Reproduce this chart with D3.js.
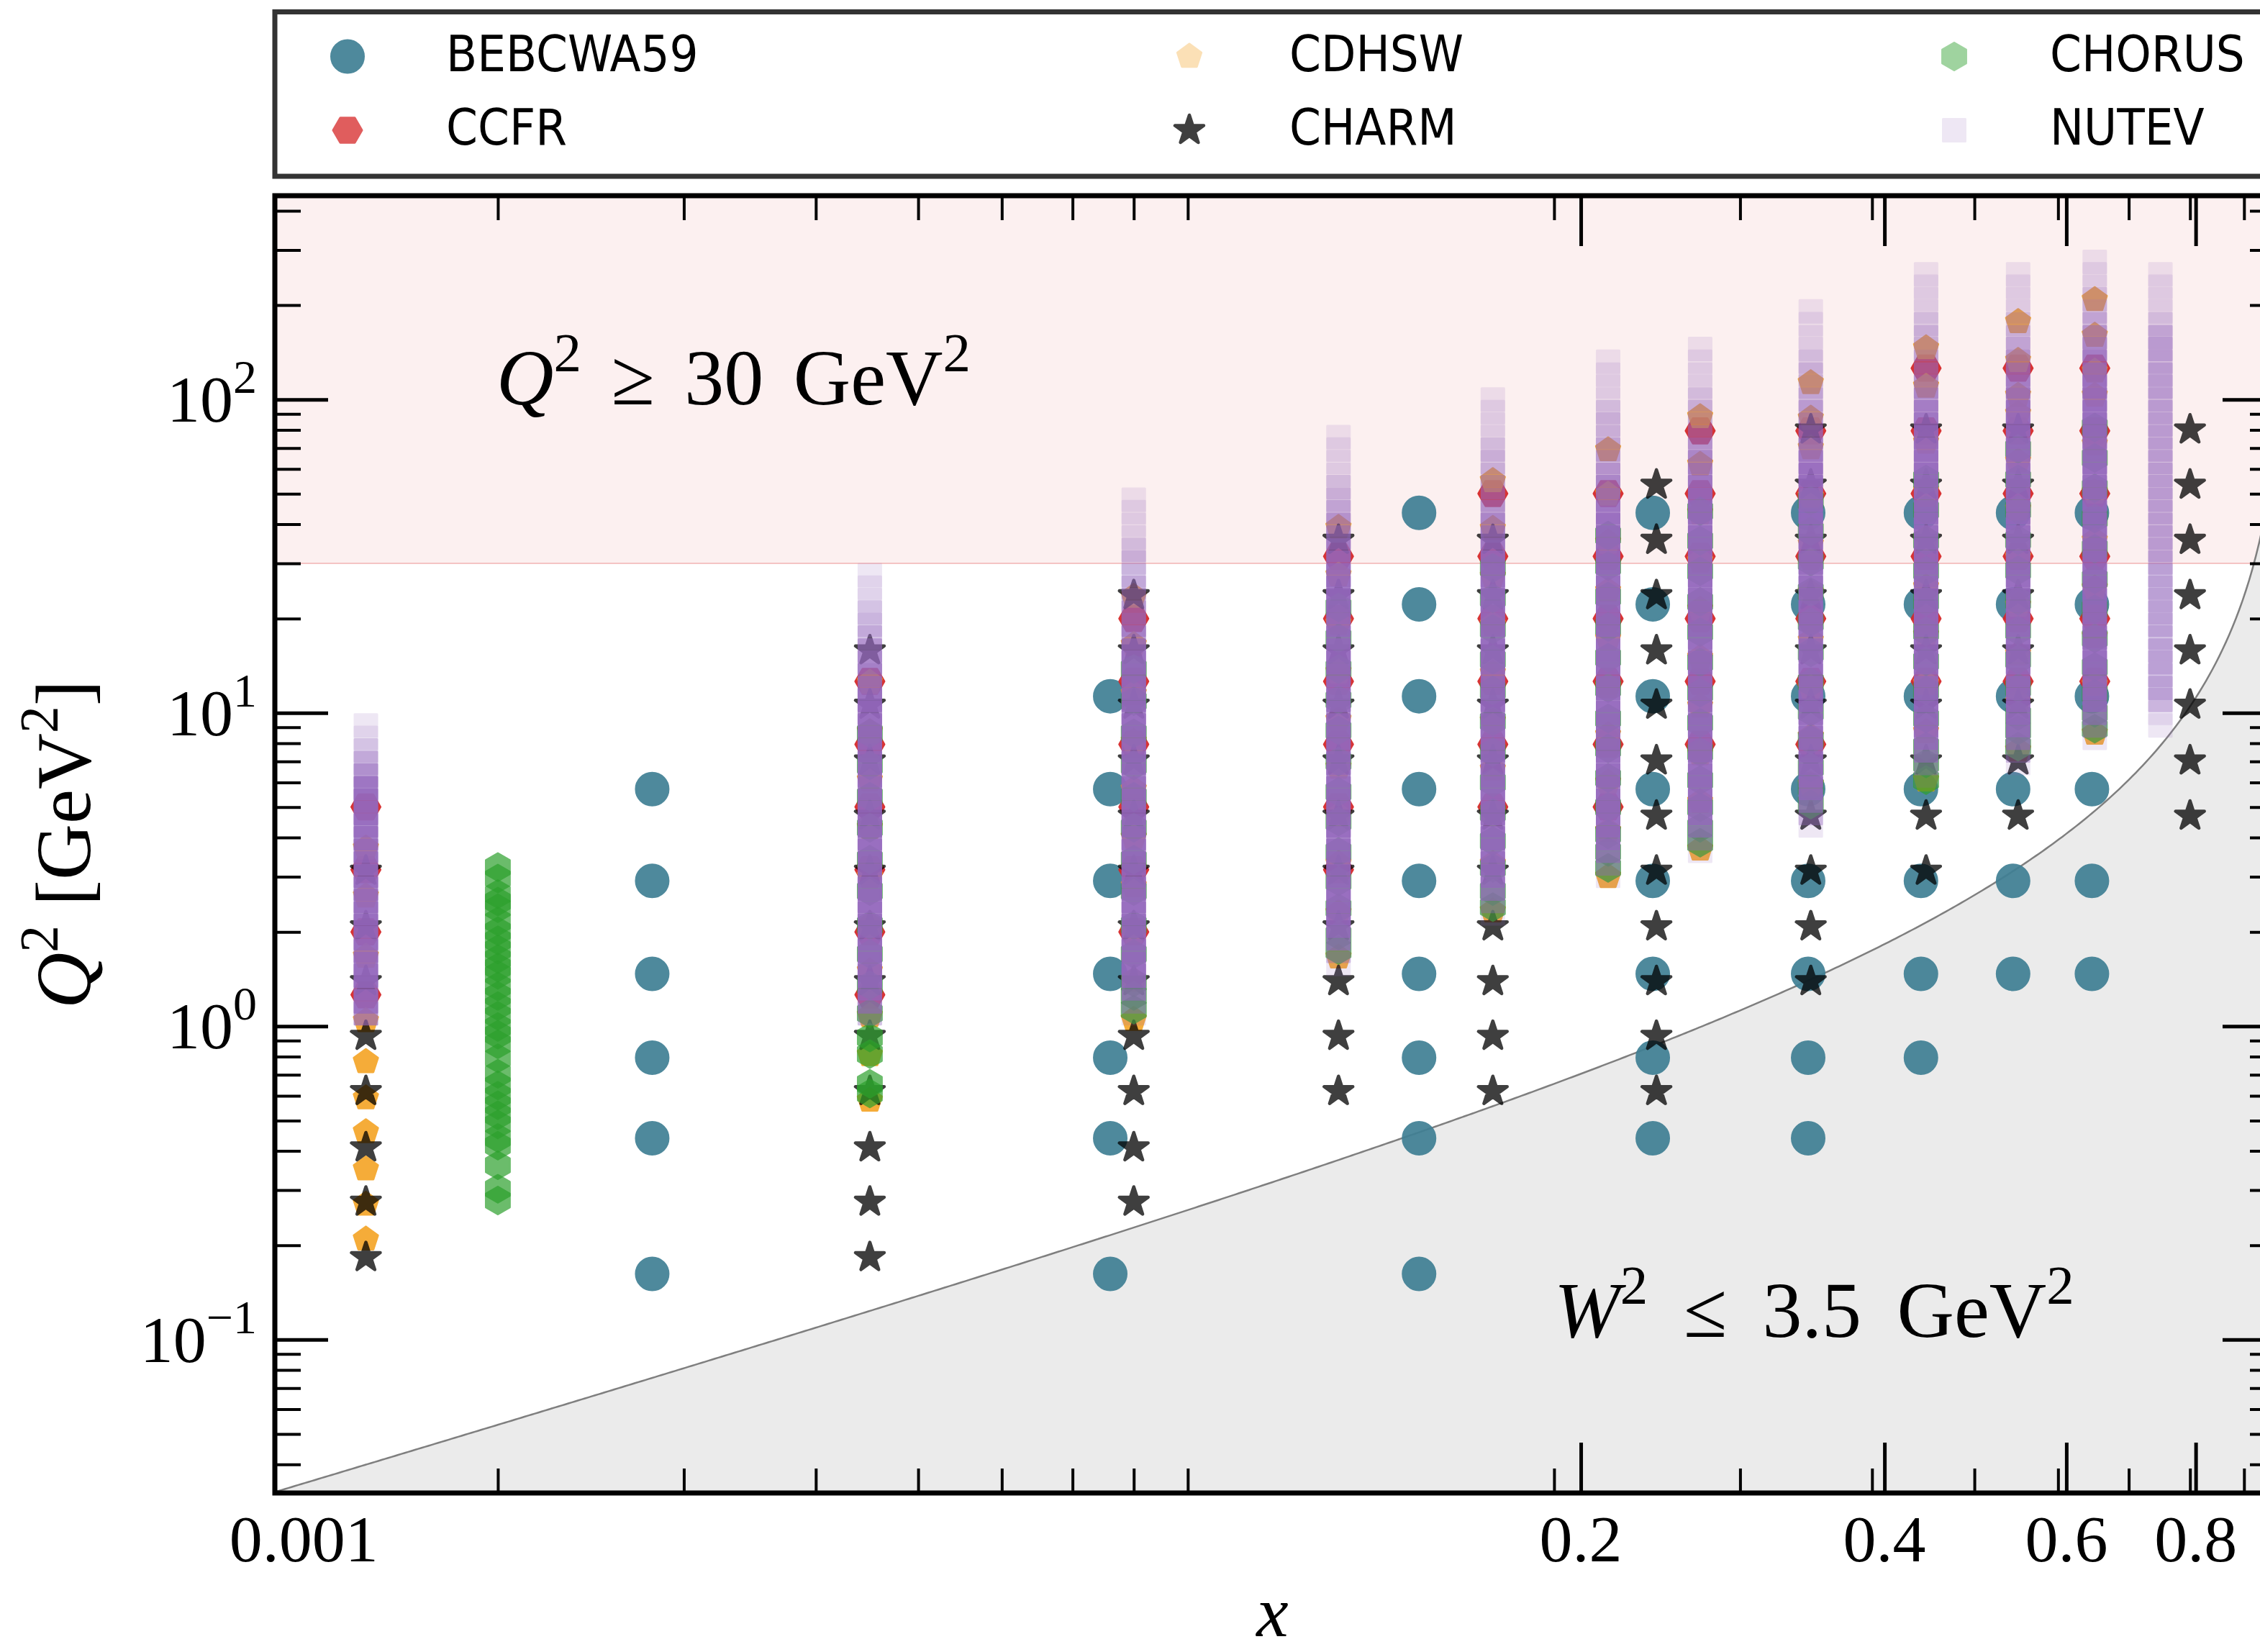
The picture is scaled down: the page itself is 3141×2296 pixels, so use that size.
<!DOCTYPE html>
<html lang="en">
<head>
<meta charset="utf-8">
<title>Neutrino DIS kinematic coverage</title>
<script src="https://cdn.jsdelivr.net/npm/d3@7"></script>
<style>
  html, body { margin: 0; padding: 0; background: #fff; overflow: hidden; }
  svg { display: block; }
  .serif { font-family: "Liberation Serif", "DejaVu Serif", serif; }
  .legend-text { font-family: "DejaVu Sans Condensed", "DejaVu Sans", sans-serif; font-stretch: condensed; }
</style>
</head>
<body>
<div id="chart"></div>
<script>
// ---------------- data: (x, Q^2) of each experiment ----------------
const bebcX = [0.028, 0.076, 0.149, 0.248, 0.348, 0.445, 0.544, 0.646];
const bebcQ2 = [
  [0.162, 0.439, 0.794, 1.47, 2.91, 5.71],
  [0.162, 0.439, 0.794, 1.47, 2.91, 5.71, 11.3],
  [0.162, 0.439, 0.794, 1.47, 2.91, 5.71, 11.3, 22.2, 43.5],
  [0.439, 0.794, 1.47, 2.91, 5.71, 11.3, 22.2, 43.5],
  [0.439, 0.794, 1.47, 2.91, 5.71, 11.3, 22.2, 43.5],
  [0.794, 1.47, 2.91, 5.71, 11.3, 22.2, 43.5],
  [1.47, 2.91, 5.71, 11.3, 22.2, 43.5],
  [1.47, 2.91, 5.71, 11.3, 22.2, 43.5]
];

const ccfrX = [0.015, 0.045, 0.08, 0.125, 0.175, 0.225, 0.275, 0.35, 0.45, 0.55, 0.65];
const ccfrQ2 = [
  [1.26, 2.0, 3.16, 5.01],
  [1.26, 2.0, 3.16, 5.01, 7.94, 12.6],
  [2.0, 3.16, 5.01, 7.94, 12.6, 20.0],
  [3.16, 5.01, 7.94, 12.6, 20.0, 31.6],
  [5.01, 7.94, 12.6, 20.0, 31.6, 50.1],
  [5.01, 7.94, 12.6, 20.0, 31.6, 50.1],
  [7.94, 12.6, 20.0, 31.6, 50.1, 79.4],
  [7.94, 12.6, 20.0, 31.6, 50.1, 79.4],
  [12.6, 20.0, 31.6, 50.1, 79.4, 125.9],
  [12.6, 20.0, 31.6, 50.1, 79.4, 125.9],
  [12.6, 20.0, 31.6, 50.1, 79.4, 125.9]
];

const cdhswX = [0.015, 0.045, 0.08, 0.125, 0.175, 0.225, 0.275, 0.35, 0.45, 0.55, 0.65];
const cdhswQ2 = [
  [0.209, 0.27, 0.35, 0.46, 0.59, 0.77, 1.04, 1.67, 2.6, 3.7],
  [0.58, 0.81, 1.08, 1.5, 2.1, 3.0, 4.3, 6.1, 8.7, 12.5],
  [1.05, 1.4, 2.0, 2.8, 4.0, 5.7, 8.1, 11.5, 16.5, 23.5],
  [1.66, 2.3, 3.3, 4.7, 6.7, 9.5, 13.5, 19.3, 27.5, 39],
  [2.33, 3.3, 4.7, 6.6, 9.4, 13.4, 19.1, 27.2, 38.7, 55],
  [3.0, 4.2, 6.0, 8.5, 12.1, 17.2, 24.5, 35, 49.8, 69],
  [3.67, 5.2, 7.4, 10.5, 15, 21.4, 30.5, 43.4, 62, 88],
  [5.9, 8.4, 12, 17, 24.2, 34.5, 49, 70, 87, 113],
  [6.1, 8.7, 12.4, 17.7, 25.2, 36, 51, 73, 110, 146],
  [7.6, 10.8, 15.4, 22, 31.3, 44.6, 63.5, 90, 103, 133, 177],
  [8.6, 12.3, 17.5, 25, 35.5, 50.6, 72, 103, 123, 160, 208]
];

const charmX = [0.015, 0.045, 0.08, 0.125, 0.175, 0.25, 0.35, 0.45, 0.55, 0.8];
const charmQ2 = [
  [0.183, 0.275, 0.41, 0.62, 0.93, 1.39, 2.08, 3.13],
  [0.183, 0.275, 0.41, 0.62, 0.93, 1.39, 2.08, 3.13, 4.69, 7.04, 10.6, 15.8],
  [0.275, 0.41, 0.62, 0.93, 1.39, 2.08, 3.13, 4.69, 7.04, 10.6, 15.8, 23.7],
  [0.62, 0.93, 1.39, 2.08, 3.13, 4.69, 7.04, 10.6, 15.8, 23.7, 35.6],
  [0.62, 0.93, 1.39, 2.08, 3.13, 4.69, 7.04, 10.6, 15.8, 23.7, 35.6],
  [0.62, 0.93, 1.39, 2.08, 3.13, 4.69, 7.04, 10.6, 15.8, 23.7, 35.6, 53.4],
  [1.39, 2.08, 3.13, 4.69, 7.04, 10.6, 15.8, 23.7, 35.6, 53.4, 80.1],
  [3.13, 4.69, 7.04, 10.6, 15.8, 23.7, 35.6, 53.4, 80.1],
  [4.69, 7.04, 10.6, 15.8, 23.7, 35.6, 53.4, 80.1],
  [4.69, 7.04, 10.6, 15.8, 23.7, 35.6, 53.4, 80.1]
];

const chorusX = [0.02, 0.045, 0.08, 0.125, 0.175, 0.225, 0.275, 0.35, 0.45, 0.55, 0.65];
const chorusQ2 = [
  [0.278, 0.303, 0.36, 0.416, 0.44, 0.486, 0.52, 0.56, 0.6, 0.648, 0.705, 0.79, 0.876, 0.94,
   0.995, 1.08, 1.16, 1.25, 1.34, 1.46, 1.54, 1.64, 1.76, 1.88, 2.01, 2.16, 2.38, 2.5, 2.64,
   2.96, 3.22],
  [0.61, 0.655, 0.815, 0.92, 1.1, 1.35, 1.7, 2.1, 2.7, 3.4, 4.3, 5.4, 6.8, 8.6],
  [1.13, 1.25, 1.38, 1.7, 2.1, 2.7, 3.4, 4.3, 5.4, 6.8, 8.6, 10.9, 13.8],
  [1.75, 1.95, 2.38, 2.9, 3.6, 4.5, 5.6, 7, 8.8, 11, 13.8, 17.3, 21.7],
  [2.4, 2.7, 3.2, 3.9, 4.8, 6, 7.5, 9.4, 11.8, 14.8, 18.5, 23.2, 29],
  [3.2, 3.6, 4.1, 5.0, 6.2, 7.7, 9.6, 12, 15, 18.8, 23.5, 29.4, 36.8],
  [3.85, 4.3, 5.0, 6.1, 7.5, 9.3, 11.6, 14.5, 18.1, 22.6, 28.3, 35.4, 44],
  [5.1, 5.8, 6.7, 8.2, 10.1, 12.5, 15.6, 19.5, 24.3, 30.4, 38, 47.5],
  [6.1, 6.9, 7.8, 9.6, 11.8, 14.6, 18.2, 22.7, 28.4, 35.5, 44.4, 55.5],
  [7.8, 8.8, 9.8, 12, 14.8, 18.3, 22.8, 28.5, 35.6, 44.5, 55.6, 69.5],
  [8.9, 10, 11.5, 14, 17.3, 21.4, 26.7, 33.4, 41.7, 52.1, 65.1, 81.4]
];

// NuTeV: number of points falling in each Q^2 bin, per x column
const nutevQ2Bins = [
  1.00, 1.10, 1.20, 1.32, 1.45, 1.58, 1.74, 1.91, 2.09, 2.29,
  2.51, 2.75, 3.02, 3.31, 3.63, 3.98, 4.37, 4.79, 5.25, 5.75,
  6.31, 6.92, 7.59, 8.32, 9.12, 10.0, 11.0, 12.0, 13.2, 14.5,
  15.8, 17.4, 19.1, 20.9, 22.9, 25.1, 27.5, 30.2, 33.1, 36.3,
  39.8, 43.7, 47.9, 52.5, 57.5, 63.1, 69.2, 75.9, 83.2, 91.2,
  100, 110, 120, 132, 145, 158, 174, 191, 209, 229, 251, 275
];
const nutevX = [0.015, 0.045, 0.08, 0.125, 0.175, 0.225, 0.275, 0.35, 0.45, 0.55, 0.65, 0.75];
const nutevFirstBin = [1, 1, 1, 5, 9, 12, 14, 16, 20, 21, 23, 24];
const nutevCounts = [
  [7, 9,9,9,9,9,9,9,9,9,9, 9,9,9,9,9,9,9,9, 5,3,2,1,1],
  [3,6, 9,9,9,9,9,9,9,9,9,9, 9,9,9,9,9,9,9,9,9,9, 9,9,9,9, 7,6,5,4,3,2,2,1,1,1],
  [1,3,6, 9,9,9,9,9,9,9,9,9,9, 9,9,9,9,9,9,9,9,9,9, 9,9,9,9,9,9, 7,6,5,4,3,3,2,2,2,1,1,1,1],
  [1,3,6, 9,9,9,9,9,9,9,9,9,9, 9,9,9,9,9,9,9,9,9,9, 9,9,9,9,9,9,9,9,9, 7,6,5,4,3,2,2,1,1,1,1],
  [1,3,6, 9,9,9,9,9,9,9,9,9,9, 9,9,9,9,9,9,9,9,9,9, 9,9,9,9,9,9, 7,6,5,4,3,3,2,2,2,1,1,1,1],
  [1,3,6, 9,9,9,9,9,9,9,9,9,9, 9,9,9,9,9,9,9,9,9,9, 9,9,9,9,9,9, 7,6,5,4,3,3,2,2,2,1,1,1,1],
  [1,3,6, 9,9,9,9,9,9,9,9,9,9, 9,9,9,9,9,9,9,9,9,9, 9,9,9,9,9,9, 7,6,5,4,3,2,2,2,1,1,1,1],
  [1,3,6, 9,9,9,9,9,9,9,9,9,9, 9,9,9,9,9,9,9,9,9,9, 9,9,9,9,9,9, 7,6,5,4,3,3,2,2,2,1,1,1,1],
  [1,3,6, 9,9,9,9,9,9,9,9,9,9, 9,9,9,9,9,9,9,9,9,9, 9,9,9,9,9, 7,6,5,4,3,3,2,2,2,1,1,1,1],
  [1,3,6, 9,9,9,9,9,9,9,9,9,9, 9,9,9,9,9,9,9,9,9,9, 9,9,9,9,9,9, 7,6,5,4,3,2,2,1,1,1,1],
  [1,3,6, 9,9,9,9,9,9,9,9,9,9, 9,9,9,9,9,9,9,9,9,9, 9,9,9,9,9,9, 7,6,5,4,3,2,2,1,1,1],
  [1,1, 3,3,3,3,3,3,3,3,3,3, 3,3,3,3,3,3,3,3,3,3, 3,3,3,3,3,3,3,3,3,3, 2,1,1,1,1]
];

// axis labels
const xTickLabels = ["0.001", "0.2", "0.4", "0.6", "0.8"];
const xTickAt = [0.0131, 0.212, 0.411, 0.611, 0.81];
const yTickExp = [-1, 0, 1, 2];

// kinematic cuts
const q2Cut = 30;       // GeV^2
const w2Cut = 3.5;      // GeV^2
const protonMass = 0.938;

// ---------------- layout ----------------
const width = 3141, height = 2296;
const plotL = 382, plotR = 3163, plotT = 272, plotB = 2075;

const svg = d3.select("#chart").append("svg")
  .attr("width", width).attr("height", height)
  .attr("viewBox", `0 0 ${width} ${height}`);

const x = d3.scaleLog().domain([0.0123, 0.9646]).range([plotL, plotR]);
const y = d3.scaleLog().domain([0.0324, 447]).range([plotB, plotT]);

svg.append("defs").append("clipPath").attr("id", "plot-area")
  .append("rect").attr("x", plotL).attr("y", plotT)
  .attr("width", plotR - plotL).attr("height", plotB - plotT);

const plot = svg.append("g").attr("clip-path", "url(#plot-area)");

// high-Q^2 band
plot.append("rect")
  .attr("x", plotL).attr("y", plotT)
  .attr("width", plotR - plotL).attr("height", y(q2Cut) - plotT)
  .attr("fill", "#d62728").attr("fill-opacity", 0.07);
plot.append("line")
  .attr("x1", plotL).attr("x2", plotR)
  .attr("y1", y(q2Cut)).attr("y2", y(q2Cut))
  .attr("stroke", "#d62728").attr("stroke-opacity", 0.25).attr("stroke-width", 2);

// W^2 < 3.5 GeV^2 region: Q^2 = (W^2 - M^2) x / (1 - x)
const w2Q2 = xv => (w2Cut - protonMass * protonMass) * xv / (1 - xv);
const [xa, xb] = x.domain();
const curveX = d3.range(0, 601).map(i => xa * Math.pow(xb / xa, i / 600));
plot.append("path")
  .datum(curveX)
  .attr("d", d3.area().x(d => x(d)).y0(plotB + 10).y1(d => Math.max(y(w2Q2(d)), plotT - 50)))
  .attr("fill", "#ebebeb");
plot.append("path")
  .datum(curveX)
  .attr("d", d3.line().x(d => x(d)).y(d => Math.max(y(w2Q2(d)), plotT - 50)))
  .attr("fill", "none").attr("stroke", "#7f7f7f").attr("stroke-width", 2.5);

// ---------------- markers ----------------
function polygon(n, r, rot) {
  const pts = d3.range(n).map(i => {
    const a = rot + i * 2 * Math.PI / n;
    return [r * Math.sin(a), -r * Math.cos(a)];
  });
  return "M" + pts.map(p => p[0].toFixed(2) + "," + p[1].toFixed(2)).join("L") + "Z";
}
function star(r) {
  const pts = d3.range(10).map(i => {
    const a = i * Math.PI / 5, rr = i % 2 ? r * 0.381966 : r;
    return [rr * Math.sin(a), -rr * Math.cos(a)];
  });
  return "M" + pts.map(p => p[0].toFixed(2) + "," + p[1].toFixed(2)).join("L") + "Z";
}
const shapes = {
  circle: d3.symbol(d3.symbolCircle, Math.PI * 22.5 * 22.5)(),
  hexSide: polygon(6, 20, Math.PI / 6),
  hexUp: polygon(6, 19, 0),
  pentagon: polygon(5, 17.5, 0),
  star: star(21),
  square: polygon(4, 15.5 * Math.SQRT2, Math.PI / 4)
};

const styles = [
  { name: "BEBCWA59", shape: "circle", color: "#3f7f94", alpha: 0.92, stack: 1 },
  { name: "CCFR", shape: "hexSide", color: "#d62728", alpha: 0.75, stack: 2 },
  { name: "CDHSW", shape: "pentagon", color: "#f39c12", alpha: 0.3, stack: 5 },
  { name: "CHARM", shape: "star", color: "#000000", alpha: 0.75, stack: 1, edge: 4.5 },
  { name: "CHORUS", shape: "hexUp", color: "#2ca02c", alpha: 0.45, stack: 2 },
  { name: "NUTEV", shape: "square", color: "#9467bd", alpha: 0.15, stack: 1 }
];
const stacked = (alpha, n) => 1 - Math.pow(1 - alpha, n);

const columns = (xs, lists) => xs.flatMap((xv, i) => lists[i].map(q => ({ x: xv, q2: q, n: 1 })));
const points = {
  BEBCWA59: columns(bebcX, bebcQ2),
  CCFR: columns(ccfrX, ccfrQ2),
  CDHSW: columns(cdhswX, cdhswQ2),
  CHARM: columns(charmX, charmQ2),
  CHORUS: columns(chorusX, chorusQ2),
  NUTEV: nutevX.flatMap((xv, i) => nutevCounts[i].map((n, k) =>
    ({ x: xv, q2: nutevQ2Bins[nutevFirstBin[i] + k], n })))
};

function drawMarker(sel, s) {
  sel.attr("d", shapes[s.shape])
    .attr("fill", s.color)
    .attr("stroke", s.color)
    .attr("stroke-width", s.edge || 3)
    .attr("stroke-linejoin", "round");
}

styles.forEach(s => {
  plot.append("g").selectAll("path")
    .data(points[s.name])
    .join("path")
    .call(drawMarker, s)
    .attr("transform", d => `translate(${x(d.x)},${y(d.q2)})`)
    .attr("opacity", d => stacked(s.alpha, s.stack * d.n));
});

// ---------------- annotations ----------------
function mathText(g, parts, size) {
  const t = g.append("text").attr("class", "serif").attr("font-size", size);
  parts.forEach(p => {
    const sp = t.append("tspan").text(p.t);
    if (p.i) sp.attr("font-style", "italic");
    if (p.sup) sp.attr("font-size", size * 0.7).attr("dy", -size * 0.42);
    if (p.down) sp.attr("dy", size * 0.42);
  });
  return t;
}

mathText(svg, [{ t: "Q", i: 1 }, { t: "2", sup: 1 }, { t: " \u2265 30 GeV", down: 1 }, { t: "2", sup: 1 }], 110)
  .attr("x", 690).attr("y", 562).attr("word-spacing", 14);
mathText(svg, [{ t: "W", i: 1 }, { t: "2", sup: 1 }, { t: " \u2264 3.5 GeV", down: 1 }, { t: "2", sup: 1 }], 110)
  .attr("x", 2160).attr("y", 1858).attr("word-spacing", 22);

// ---------------- axes ----------------
const axes = svg.append("g");
const xMinor = [-2, -1].flatMap(e => d3.range(2, 10).map(k => k * Math.pow(10, e)));
const yMinor = [-2, -1, 0, 1, 2].flatMap(e => d3.range(2, 10).map(k => k * Math.pow(10, e)))
  .filter(v => v > y.domain()[0] && v < y.domain()[1]);
const yMajor = yTickExp.map(e => Math.pow(10, e));
const xMajor = xTickAt.slice(1);   // the first label sits at the corner without a tick

function tickStyle(g, w) {
  g.select(".domain").remove();
  g.selectAll("line").attr("stroke", "#000").attr("stroke-width", w);
}
axes.append("g").attr("transform", `translate(0,${plotB})`)
  .call(d3.axisBottom(x).tickValues(xMinor).tickSize(-34).tickFormat("")).call(tickStyle, 4);
axes.append("g").attr("transform", `translate(0,${plotB})`)
  .call(d3.axisBottom(x).tickValues(xMajor).tickSize(-70).tickFormat("")).call(tickStyle, 5);
axes.append("g").attr("transform", `translate(0,${plotT})`)
  .call(d3.axisTop(x).tickValues(xMinor).tickSize(-34).tickFormat("")).call(tickStyle, 4);
axes.append("g").attr("transform", `translate(0,${plotT})`)
  .call(d3.axisTop(x).tickValues(xMajor).tickSize(-70).tickFormat("")).call(tickStyle, 5);
axes.append("g").attr("transform", `translate(${plotL},0)`)
  .call(d3.axisLeft(y).tickValues(yMinor).tickSize(-36).tickFormat("")).call(tickStyle, 4);
axes.append("g").attr("transform", `translate(${plotL},0)`)
  .call(d3.axisLeft(y).tickValues(yMajor).tickSize(-74).tickFormat("")).call(tickStyle, 5);
axes.append("g").attr("transform", `translate(${plotR},0)`)
  .call(d3.axisRight(y).tickValues(yMinor).tickSize(-36).tickFormat("")).call(tickStyle, 4);
axes.append("g").attr("transform", `translate(${plotR},0)`)
  .call(d3.axisRight(y).tickValues(yMajor).tickSize(-74).tickFormat("")).call(tickStyle, 5);

axes.append("rect")
  .attr("x", plotL).attr("y", plotT)
  .attr("width", plotR - plotL).attr("height", plotB - plotT)
  .attr("fill", "none").attr("stroke", "#000").attr("stroke-width", 7);

// tick labels
axes.append("g").selectAll("text")
  .data(xTickLabels)
  .join("text")
  .attr("class", "serif")
  .attr("font-size", 92)
  .attr("text-anchor", "middle")
  .attr("x", (d, i) => x(xTickAt[i]))
  .attr("y", 2170)
  .text(d => d);

yTickExp.forEach(e => {
  const t = axes.append("text").attr("class", "serif").attr("font-size", 92)
    .attr("text-anchor", "end").attr("x", 357).attr("y", y(Math.pow(10, e)) + 31);
  t.append("tspan").text("10");
  t.append("tspan").attr("font-size", 66).attr("dy", -40).text(e < 0 ? "\u2212" + (-e) : String(e));
});

// axis titles
axes.append("text").attr("class", "serif").attr("font-size", 100)
  .attr("font-style", "italic").attr("text-anchor", "middle")
  .attr("x", (plotL + plotR) / 2 - 4).attr("y", 2274).text("x");

mathText(axes, [{ t: "Q", i: 1 }, { t: "2", sup: 1 }, { t: " [GeV", down: 1 }, { t: "2", sup: 1 }, { t: "]", down: 1 }], 108)
  .attr("text-anchor", "middle")
  .attr("transform", `translate(125,${(plotT + plotB) / 2}) rotate(-90)`);

// ---------------- legend ----------------
const legend = svg.append("g");
legend.append("rect")
  .attr("x", plotL).attr("y", 16.5)
  .attr("width", plotR - plotL).attr("height", 228.5)
  .attr("fill", "#fff").attr("stroke", "#333").attr("stroke-width", 7);

const legendMarkerX = [483, 1653, 2716];
const legendTextX = [620, 1792, 2849];
const legendRowY = [78.5, 181];

styles.forEach((s, i) => {
  const col = Math.floor(i / 2), row = i % 2;
  legend.append("path")
    .call(drawMarker, s)
    .attr("transform", `translate(${legendMarkerX[col]},${legendRowY[row]})`)
    .attr("opacity", s.alpha);
  legend.append("text")
    .attr("class", "legend-text")
    .attr("font-size", 70)
    .attr("x", legendTextX[col])
    .attr("y", legendRowY[row] + 20)
    .text(s.name);
});
</script>
</body>
</html>
